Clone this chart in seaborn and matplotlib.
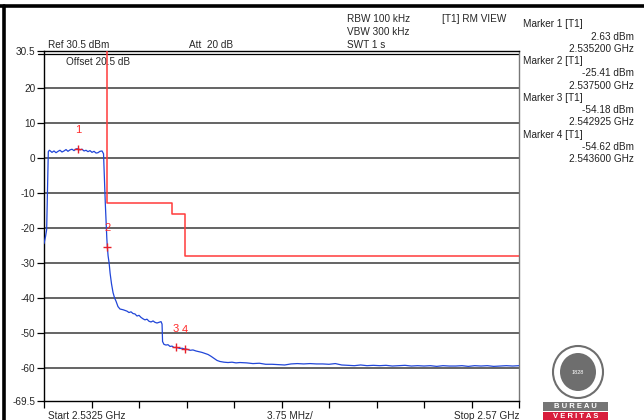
import numpy as np
import pandas as pd
import matplotlib
matplotlib.use("Agg")
import matplotlib.pyplot as plt
import seaborn as sns
from matplotlib.patches import Ellipse, Rectangle
from matplotlib.lines import Line2D

# ---------------- data ----------------
START_GHZ = 2.5325
STOP_GHZ = 2.57

# trace: frequency offset from start (MHz) and level (dBm)
trace_mhz = [0.00, 0.12, 0.21, 0.28, 0.34, 0.42, 0.47, 0.63, 0.79, 0.95, 1.11, 1.26, 1.42,
             1.58, 1.74, 1.89, 2.05, 2.21, 2.37, 2.53, 2.70, 2.84, 3.00, 3.16, 3.32, 3.47,
             3.63, 3.79, 3.95, 4.11, 4.26, 4.42, 4.58, 4.70, 4.74, 4.78, 4.84, 4.92, 4.96,
             5.00, 5.06, 5.14, 5.22, 5.33, 5.45, 5.57, 5.69, 5.84, 6.00, 6.24, 6.39, 6.55,
             6.71, 6.87, 7.03, 7.18, 7.34, 7.50, 7.66, 7.82, 7.97, 8.13, 8.29, 8.45, 8.61,
             8.76, 8.92, 9.08, 9.24, 9.32, 9.36, 9.47, 9.63, 9.79, 9.95, 10.11, 10.26, 10.425,
             10.58, 10.74, 10.89, 11.10, 11.29, 11.53, 11.76, 12.00, 12.24, 12.47, 12.71,
             12.95, 13.18, 13.42, 13.66, 13.89, 14.21, 14.53, 14.84, 15.16, 15.47,
             16.0, 16.5, 17.0, 17.5, 18.0, 18.5, 19.0, 19.5, 20.0, 20.5, 21.0, 21.5, 22.0,
             22.5, 23.0, 23.5, 24.0, 24.5, 25.0, 25.5, 26.0, 26.5, 27.0, 27.5, 28.0, 28.5,
             29.0, 29.5, 30.0, 30.5, 31.0, 31.5, 32.0, 32.5, 33.0, 33.5, 34.0, 34.5, 35.0,
             35.5, 36.0, 36.5, 37.0, 37.5]
trace_dbm = [-24.5, -22.5, -20.5, -8.0, 1.8, 2.2, 2.1, 1.6, 2.0, 1.5, 1.9, 2.2, 1.7,
             2.0, 2.4, 1.9, 2.3, 2.5, 2.1, 2.6, 2.63, 2.3, 2.5, 2.0, 2.2, 1.8,
             2.1, 1.6, 1.9, 1.4, 1.5, 1.9, 2.0, 1.2, -3.0, -7.0, -13.0, -19.6, -23.0,
             -25.41, -28.0, -30.0, -33.0, -36.0, -38.5, -40.0, -41.0, -42.5, -43.2, -43.4, -43.6, -43.8,
             -44.2, -44.0, -44.5, -44.6, -45.2, -45.0, -45.6, -46.0, -46.3, -46.1, -46.7, -46.9, -46.6,
             -47.0, -47.2, -47.0, -46.8, -47.5, -52.5, -53.3, -53.5, -53.4, -53.9, -53.8, -54.2, -54.18,
             -54.3, -54.5, -54.4, -54.62, -54.7, -55.0, -54.9, -55.2, -55.4, -55.6, -55.9,
             -56.2, -56.7, -57.3, -57.9, -58.2, -58.4, -58.5, -58.4, -58.6, -58.5,
             -58.6, -58.8, -58.7, -59.0, -59.0, -59.1, -59.2, -58.9, -58.8, -58.9, -58.8, -58.9, -58.9,
             -59.0, -58.8, -59.2, -59.3, -59.4, -59.2, -59.4, -59.3, -59.4, -59.3, -59.5, -59.4, -59.3,
             -59.5, -59.4, -59.5, -59.4, -59.6, -59.4, -59.5, -59.5, -59.4, -59.6, -59.4, -59.5, -59.4,
             -59.6, -59.5, -59.4, -59.5, -59.4]

# limit line (step mask)
limit_mhz = [5.0, 5.0, 10.1, 10.1, 11.1, 11.1, 37.5]
limit_dbm = [30.5, -13.0, -13.0, -16.0, -16.0, -28.0, -28.0]

# markers
marker_ids = ["1", "2", "3", "4"]
marker_ghz = [2.535200, 2.537500, 2.542925, 2.543600]
marker_dbm = [2.63, -25.41, -54.18, -54.62]

ytick_vals = [30.5, 20, 10, 0, -10, -20, -30, -40, -50, -60, -69.5]
ytick_labels = ["30.5", "20", "10", "0", "-10", "-20", "-30", "-40", "-50", "-60", "-69.5"]

# ---------------- plot ----------------
sns.set_style("white")
plt.rcParams["font.family"] = ["Liberation Sans", "DejaVu Sans"]

W, H = 644, 420
fig = plt.figure(figsize=(W / 100, H / 100), dpi=100)
fig.patch.set_facecolor("white")


def fx(px):
    return px / W


def fy(py):
    return 1 - py / H


ax = fig.add_axes([fx(44), fy(401), fx(519) - fx(44), fy(51.3) - fy(401)])

trace_df = pd.DataFrame({"f": [START_GHZ + m / 1000 for m in trace_mhz], "lvl": trace_dbm})
limit_df = pd.DataFrame({"f": [START_GHZ + m / 1000 for m in limit_mhz], "lvl": limit_dbm})

# grid lines
for v in [20, 10, 0, -10, -20, -30, -40, -50, -60]:
    ax.axhline(v, color="#3a3a3a", lw=1.1, zorder=1)
ax.axhline(29.85, color="black", lw=0.9, zorder=1)

sns.lineplot(data=limit_df, x="f", y="lvl", estimator=None, sort=False,
             color="#ff3b3b", lw=1.1, ax=ax, zorder=3)
sns.lineplot(data=trace_df, x="f", y="lvl", estimator=None, sort=False,
             color="#2146d8", lw=0.9, ax=ax, zorder=4)

for mid, mf, md in zip(marker_ids, marker_ghz, marker_dbm):
    ax.plot(mf, md, marker="+", ms=6, mew=1.0, color="#e8202a", zorder=5)
    ax.text(mf, md + 5.4, mid, color="#ff2a2a", fontsize=8, ha="center", va="center", zorder=5)

ax.set_xlim(START_GHZ, STOP_GHZ)
ax.set_ylim(-69.5, 30.5)
ax.set_xticks([START_GHZ + i * 0.00375 for i in range(11)])
ax.set_xticklabels([])
ax.set_yticks(ytick_vals)
ax.set_yticklabels(ytick_labels, fontsize=7.2)
ax.tick_params(axis="y", direction="out", length=5, width=0.9, color="black", pad=1, left=True)
ax.tick_params(axis="x", direction="out", length=5, width=0.9, color="black", bottom=True)
ax.set_xlabel("")
ax.set_ylabel("")
for s in ["left", "bottom", "top"]:
    ax.spines[s].set_color("black")
    ax.spines[s].set_linewidth(1.0)
ax.spines["right"].set_color("#777777")
ax.spines["right"].set_linewidth(1.0)

# second dash of the "=" at the reference level
fig.add_artist(Line2D([fx(38), fx(44)], [fy(54), fy(54)], color="black", lw=0.9))

fs = 7.2
# header texts
fig.text(fx(48), fy(45), "Ref 30.5 dBm", fontsize=fs, va="center", ha="left")
fig.text(fx(189), fy(45), "Att  20 dB", fontsize=fs, va="center", ha="left")
fig.text(fx(66), fy(62), "Offset 20.5 dB", fontsize=fs, va="center", ha="left")
fig.text(fx(347), fy(19), "RBW 100 kHz", fontsize=fs, va="center", ha="left")
fig.text(fx(347), fy(32), "VBW 300 kHz", fontsize=fs, va="center", ha="left")
fig.text(fx(347), fy(44.5), "SWT 1 s", fontsize=fs, va="center", ha="left")
fig.text(fx(442), fy(19), "[T1] RM VIEW", fontsize=fs, va="center", ha="left")

# marker readout
ys = [24, 36.7, 49, 61.3, 73.3, 85.7, 98.3, 110, 122.3, 134.7, 146.7, 159.3]
lines = []
for mid, mf, md in zip(marker_ids, marker_ghz, marker_dbm):
    lines.append(("Marker %s [T1]" % mid, "left"))
    lines.append(("%.2f dBm" % md, "right"))
    lines.append(("%.6f GHz" % mf, "right"))
for (txt, side), yy in zip(lines, ys):
    xx = fx(523) if side == "left" else fx(634)
    fig.text(xx, fy(yy), txt, fontsize=fs, va="center", ha=side, color="#222222")

# bottom annotations
fig.text(fx(48), fy(416), "Start 2.5325 GHz", fontsize=fs, va="center", ha="left")
fig.text(fx(290), fy(416), "3.75 MHz/", fontsize=fs, va="center", ha="center")
fig.text(fx(519), fy(416), "Stop 2.57 GHz", fontsize=fs, va="center", ha="right")

# screenshot frame
fig.add_artist(Line2D([0, 1], [fy(6), fy(6)], color="black", lw=2.6))
fig.add_artist(Line2D([fx(4), fx(4)], [0, fy(6)], color="black", lw=2.6))

# logo (approximation)
fig.add_artist(Ellipse((fx(578), fy(372)), fx(50), 52 / H, facecolor="white",
                       edgecolor="#6e6e6e", lw=1.5))
fig.add_artist(Ellipse((fx(578), fy(372)), fx(36), 38 / H, facecolor="#6e6e6e",
                       edgecolor="none"))
fig.text(fx(578), fy(372), "1828", fontsize=4, color="white", ha="center", va="center")
fig.add_artist(Rectangle((fx(543), fy(411)), fx(65), 9.5 / H, facecolor="#757575",
                         edgecolor="none"))
fig.add_artist(Rectangle((fx(543), fy(421)), fx(65), 9.5 / H, facecolor="#d81e3c",
                         edgecolor="none"))
fig.text(fx(575.5), fy(406), "B U R E A U", fontsize=5.5, color="white", ha="center",
         va="center", fontweight="bold")
fig.text(fx(575.5), fy(416), "V E R I T A S", fontsize=5.5, color="white", ha="center",
         va="center", fontweight="bold")

fig.savefig("out.png", dpi=100, facecolor="white")
